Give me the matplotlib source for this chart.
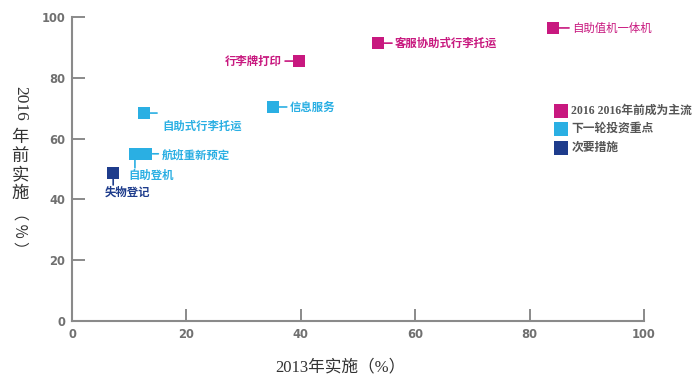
import matplotlib
matplotlib.use('Agg')
import matplotlib.pyplot as plt

plt.rcParams['font.family'] = ['Noto Sans CJK SC', 'DejaVu Sans']

# dados
nomes = ['自助值机一体机', '客服协助式行李托运', '行李牌打印', '信息服务',
         '自助式行李托运', '航班重新预定', '自助登机', '失物登记']
x2013 = [84.1, 53.5, 39.7, 35.1, 12.6, 13.0, 11.0, 7.2]
y2016 = [96.4, 91.4, 85.5, 70.4, 68.4, 55.0, 55.0, 48.7]
grupo = [0, 0, 0, 1, 1, 1, 1, 2]
grupos = ['2016 2016年前成为主流', '下一轮投资重点', '次要措施']
cores = ['#C8187F', '#2AAFE3', '#1E3C8C']
ticks = [0, 20, 40, 60, 80, 100]

# deslocamento do texto e do traço (pixels), alinhamento, negrito
rotulos = {
    '自助值机一体机': ((19, 0), (16, 0), 'left', 'normal'),
    '客服协助式行李托运': ((17, 0), (14, 0), 'left', 'bold'),
    '行李牌打印': ((-17, 0), (-14, 0), 'right', 'bold'),
    '信息服务': ((17, 0), (14, 0), 'left', 'bold'),
    '自助式行李托运': ((18, -13), (13, 0), 'left', 'bold'),
    '航班重新预定': ((15, -1), (12, 0), 'left', 'bold'),
    '自助登机': ((-7, -22), (0, -14), 'left', 'bold'),
    '失物登记': ((-8, -19), (0, -12), 'left', 'bold'),
}

fig = plt.figure(figsize=(7, 3.84), dpi=100)
ax = fig.add_axes([72 / 700, 1 - 321 / 384, 572 / 700, 304 / 384])

for g in range(3):
    xs = [x for x, gg in zip(x2013, grupo) if gg == g]
    ys = [y for y, gg in zip(y2016, grupo) if gg == g]
    ax.scatter(xs, ys, marker='s', s=85, color=cores[g], label=grupos[g],
               linewidths=0, zorder=3, clip_on=False)

px = 0.72
for nome, x, y, g in zip(nomes, x2013, y2016, grupo):
    (tx, ty), (lx, ly), ha, peso = rotulos[nome]
    ax.annotate('', xy=(x, y), xytext=(lx * px, ly * px), textcoords='offset points',
                arrowprops=dict(arrowstyle='-', color=cores[g], lw=1.2,
                                shrinkA=0, shrinkB=4.5))
    ax.annotate(nome, xy=(x, y), xytext=(tx * px, ty * px), textcoords='offset points',
                ha=ha, va='center', fontsize=8.2, color=cores[g], fontweight=peso)

ax.set_xlim(0, 100)
ax.set_ylim(0, 100)
ax.set_xticks(ticks)
ax.set_yticks(ticks)
for s in ['top', 'right']:
    ax.spines[s].set_visible(False)
for s in ['left', 'bottom']:
    ax.spines[s].set_color('#8a8a8a')
    ax.spines[s].set_linewidth(1.5)
ax.tick_params(direction='in', length=9, width=1.4, color='#8a8a8a',
               labelcolor='#707070', labelsize=8.3, pad=5)
for lab in ax.get_xticklabels() + ax.get_yticklabels():
    lab.set_fontweight('bold')
    lab.set_family('DejaVu Sans')

leg = ax.legend(loc='upper left', bbox_to_anchor=(550 / 700, 1 - 100 / 384),
                bbox_transform=fig.transFigure, frameon=False, fontsize=8.5,
                handletextpad=0.4, labelspacing=0.55, handlelength=1.0,
                borderaxespad=0, markerscale=1.1)
for t in leg.get_texts():
    t.set_color('#555555')
    t.set_fontweight('bold')
    t.set_family(['Liberation Serif', 'Noto Sans CJK SC'])

serif = ['Liberation Serif', 'Noto Sans CJK SC']
fig.text(340 / 700, 1 - 367 / 384, '2013年实施（%）', ha='center', va='center',
         fontsize=12, color='#333333', family=serif)

# rótulo vertical do eixo y
fig.text(20 / 700, 1 - 103 / 384, '2016', rotation=-90, ha='center', va='center',
         fontsize=12.5, color='#333333', family=serif)
for i, c in enumerate('年前实施'):
    fig.text(20 / 700, 1 - (138 + 18.5 * i) / 384, c, ha='center', va='center',
             fontsize=12.5, color='#333333', family=serif)
fig.text(20 / 700, 1 - 231 / 384, '（ % ）', rotation=-90, ha='center', va='center',
         fontsize=11, color='#333333', family=['Noto Sans CJK SC'])

fig.savefig('out.png', dpi=100)
plt.close(fig)
